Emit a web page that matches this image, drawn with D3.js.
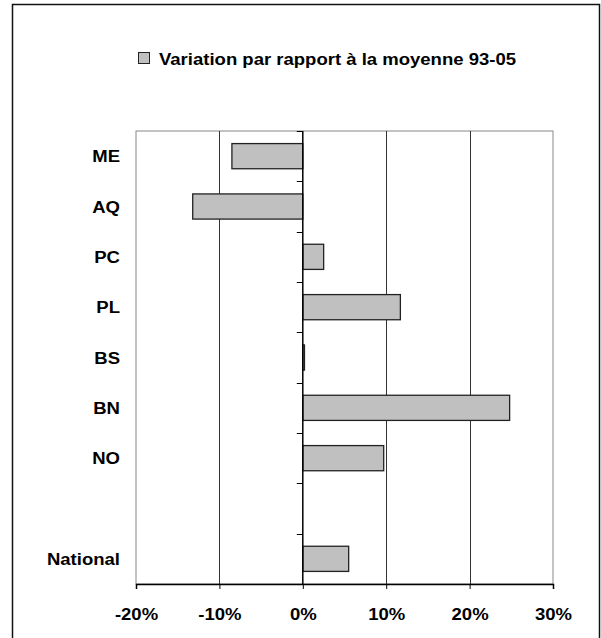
<!DOCTYPE html>
<html><head><meta charset="utf-8">
<script src="https://cdn.jsdelivr.net/npm/d3@7"></script>
<style>body{margin:0;background:#fff}text{font-family:"Liberation Sans",Arial,sans-serif;font-weight:bold;fill:#000}</style>
</head><body><svg id="c" width="601" height="638"></svg>
<script>
const categories = ["ME","AQ","PC","PL","BS","BN","NO","","National"];
const values = [-0.085,-0.132,0.025,0.117,0.002,0.248,0.097,null,0.055];
const xTicks = [-0.2,-0.1,0,0.1,0.2,0.3];
const legendLabel = "Variation par rapport à la moyenne 93-05";

const svg = d3.select("#c");
const L=136, R=553, T=131, B=584;
const SX = 1.09, FS = 17;
const x = d3.scaleLinear().domain([-0.2,0.3]).range([L,R]);
const y = d3.scaleBand().domain(categories.map((d,i)=>i)).range([T,B]).paddingInner(0.5).paddingOuter(0.25);
const fmt = d => Math.round(d*100) + "%";

svg.append("rect").attr("x",12.5).attr("y",4.5).attr("width",587).attr("height",660)
  .attr("fill","#fff").attr("stroke","#111").attr("stroke-width",1.5);

// plot border
svg.append("rect").attr("x",L).attr("y",T).attr("width",R-L).attr("height",B-T)
  .attr("fill","none").attr("stroke","#888").attr("stroke-width",1);

// gridlines
svg.append("g").selectAll("line").data(xTicks.filter(d=>d!==0 && d!==-0.2 && d!==0.3)).join("line")
  .attr("x1",d=>Math.round(x(d))+0.5).attr("x2",d=>Math.round(x(d))+0.5).attr("y1",T).attr("y2",B)
  .attr("stroke","#333").attr("stroke-width",1);

// bars
svg.append("g").selectAll("rect").data(values.map((v,i)=>({v,i})).filter(d=>d.v!==null)).join("rect")
  .attr("x",d=>x(Math.min(0,d.v))).attr("width",d=>Math.max(1,Math.abs(x(d.v)-x(0))))
  .attr("y",d=>y(d.i)).attr("height",y.bandwidth())
  .attr("fill","#c0c0c0").attr("stroke","#222").attr("stroke-width",1.3);

// zero axis line with ticks at band boundaries
const step = (B-T)/categories.length;
const bounds = d3.range(categories.length+1).map(i=>T+i*step);
svg.append("line").attr("x1",x(0)).attr("x2",x(0)).attr("y1",T).attr("y2",B).attr("stroke","#000").attr("stroke-width",1.5);
svg.append("g").selectAll("line").data(bounds).join("line")
  .attr("x1",x(0)-6).attr("x2",x(0)).attr("y1",d=>Math.round(d)+0.5).attr("y2",d=>Math.round(d)+0.5)
  .attr("stroke","#000").attr("stroke-width",1);

// bottom axis
const xAxis = d3.axisBottom(x).tickValues(xTicks).tickFormat(fmt).tickSize(5).tickPadding(19);
const ga = svg.append("g").attr("transform",`translate(0,${B})`).call(xAxis);
ga.select(".domain").attr("stroke","#000").attr("stroke-width",1.5);
ga.selectAll(".tick line").attr("stroke","#000");
ga.selectAll(".tick text").attr("font-size",FS).attr("font-family",null)
  .style("font-family",'"Liberation Sans",Arial,sans-serif').style("font-weight","bold").attr("fill","#000")
  .attr("transform",`scale(${SX},1)`);

// category labels
svg.append("g").selectAll("text").data(categories).join("text")
  .attr("transform",(d,i)=>`translate(120,${y(i)+y.bandwidth()/2}) scale(${SX},1)`).attr("dy","0.36em")
  .attr("text-anchor","end").attr("font-size",FS).text(d=>d);

// legend
svg.append("rect").attr("x",138.5).attr("y",52.5).attr("width",11).attr("height",11)
  .attr("fill","#c0c0c0").attr("stroke","#222").attr("stroke-width",1);
svg.append("text").attr("transform",`translate(159,65) scale(${SX},1)`).attr("font-size",FS).text(legendLabel);
</script></body></html>
